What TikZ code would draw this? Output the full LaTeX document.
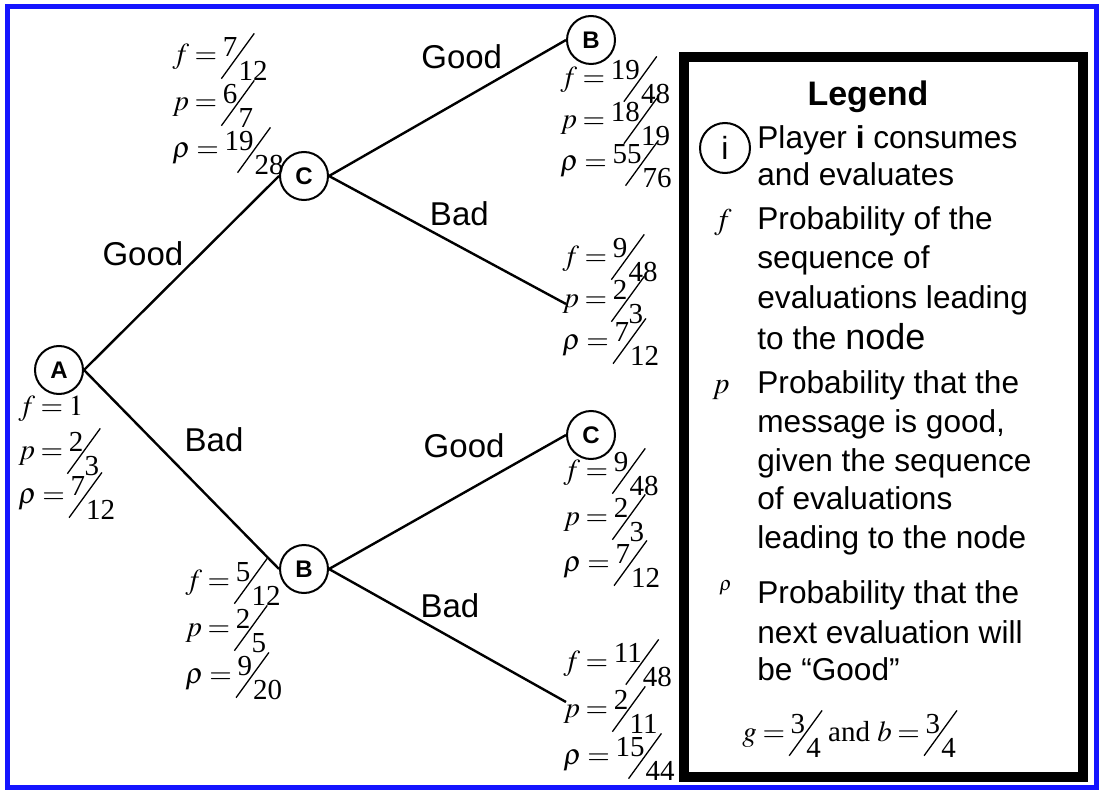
\documentclass[tikz,border=0pt]{standalone}
\usepackage{mathptmx}
\usepackage{fontspec}
\setmainfont{Liberation Serif}
\setsansfont{Liberation Sans}
\usepackage{graphicx}
\usetikzlibrary{positioning}
\definecolor{frameblue}{RGB}{20,20,255}
% slanted fraction with a long stroke
\newcommand{\sfr}[2]{\smash{\raisebox{.25em}{#1}\kern-.57em\raisebox{-.52em}{\rotatebox{54}{\rule{1.93em}{.045em}}}\kern-.56em\raisebox{-.58em}{#2}}}
\newcommand{\valfont}{\fontsize{14.5}{18}\selectfont\thickmuskip=3.5mu}
\tikzset{
  player/.style={circle, draw, line width=1pt, minimum size=24pt, inner sep=0pt,
    font=\sffamily\bfseries\fontsize{12}{14}\selectfont},
  branch/.style={line width=1.2pt},
  lab/.style={font=\sffamily\fontsize{16.5}{18}\selectfont, inner sep=1pt},
  val/.style={anchor=base west, inner sep=0pt, font=\valfont},
  legtext/.style={anchor=base west, inner sep=0pt, font=\sffamily\fontsize{15.8}{18}\selectfont},
}
% f, p and rho under a node: name, x, first baseline, row step, values
\newcommand{\fpr}[7]{%
  \node[val] (#1f) at (#2,#3) {$f=#5$};
  \node[val] (#1p) at (#2,{#3+#4}) {$p=#6$};
  \node[val] (#1r) at (#2,{#3+2*#4}) {$\rho=#7$};}

\begin{document}
\begin{tikzpicture}[x=0.5pt, y=-0.5pt]
\useasboundingbox (0,0) rectangle (1102,791);
\draw[frameblue, line width=2.5pt] (7,7) rectangle (1096,787);

% players
\node[player] (A)  at (59,370)  {A};
\node[player] (C1) at (304,176) {C};
\node[player] (B1) at (304,569) {B};
\node[player] (B2) at (591,40)  {B};
\node[player] (C2) at (591,435) {C};
\coordinate (e1) at (566,304);
\coordinate (e2) at (566,702);

% branches
\draw[branch] (A.east) -- node[lab, midway, above left, xshift=2.5pt, yshift=2pt] {Good} (C1.west);
\draw[branch] (A.east) -- node[lab, midway, above right, yshift=7pt] {Bad} (B1.west);
\draw[branch] (C1.east) -- node[lab, pos=.56, above=14pt] {Good} (B2.west);
\draw[branch] (C1.east) -- node[lab, pos=.55, above=8.5pt] {Bad} (e1);
\draw[branch] (B1.east) -- node[lab, pos=.57, above=16pt] {Good} (C2.west);
\draw[branch] (B1.east) -- node[lab, pos=.51, above=8pt] {Bad} (e2);

% values at the nodes
\fpr{vA}{18}{415}{44}{1}{\sfr{2}{3}}{\sfr{7}{12}}
\fpr{vC1}{172}{64}{47}{\sfr{7}{12}}{\sfr{6}{7}}{\sfr{19}{28}}
\fpr{vB1}{185}{589}{47}{\sfr{5}{12}}{\sfr{2}{5}}{\sfr{9}{20}}
\fpr{vB2}{560}{87}{42}{\sfr{19}{48}}{\sfr{18}{19}}{\sfr{55}{76}}
\fpr{vCB}{562}{265}{42}{\sfr{9}{48}}{\sfr{2}{3}}{\sfr{7}{12}}
\fpr{vC2}{563}{479}{46}{\sfr{9}{48}}{\sfr{2}{3}}{\sfr{7}{12}}
\fpr{vBB}{563}{670}{47}{\sfr{11}{48}}{\sfr{2}{11}}{\sfr{15}{44}}

% legend
\draw[line width=5pt] (684,57) rectangle (1083,777);
\node[font=\sffamily\bfseries\fontsize{17}{20}\selectfont, anchor=base] (legend) at (868,106) {Legend};
\node[circle, draw, line width=1pt, minimum size=25pt, inner sep=0pt,
  font=\sffamily\fontsize{16}{18}\selectfont] (iplayer) at (725,148) {i};
\foreach \y/\t in {149/{Player \textbf{i} consumes}, 186/and evaluates,
    229/Probability of the, 269/sequence of, 308/evaluations leading,
    349/{to the {\fontsize{18}{20}\selectfont node}},
    393/Probability that the, 432/{message is good,}, 471/given the sequence,
    509/of evaluations, 548/leading to the node,
    603/Probability that the, 643/next evaluation will, 680/be “Good”}
  \node[legtext] (leg\y) at (757,\y) {\t};
\node[val, font=\fontsize{15}{18}\selectfont] (symf) at (714,229) {$f$};
\node[val, font=\fontsize{15}{18}\selectfont] (symp) at (712,393) {$p$};
\node[val, font=\fontsize{10}{12}\selectfont] (symr) at (719,590) {$\rho$};
\node[val] (gb) at (742,741) {$g=\sfr{3}{4}$ and $b=\sfr{3}{4}$};
\end{tikzpicture}
\end{document}
